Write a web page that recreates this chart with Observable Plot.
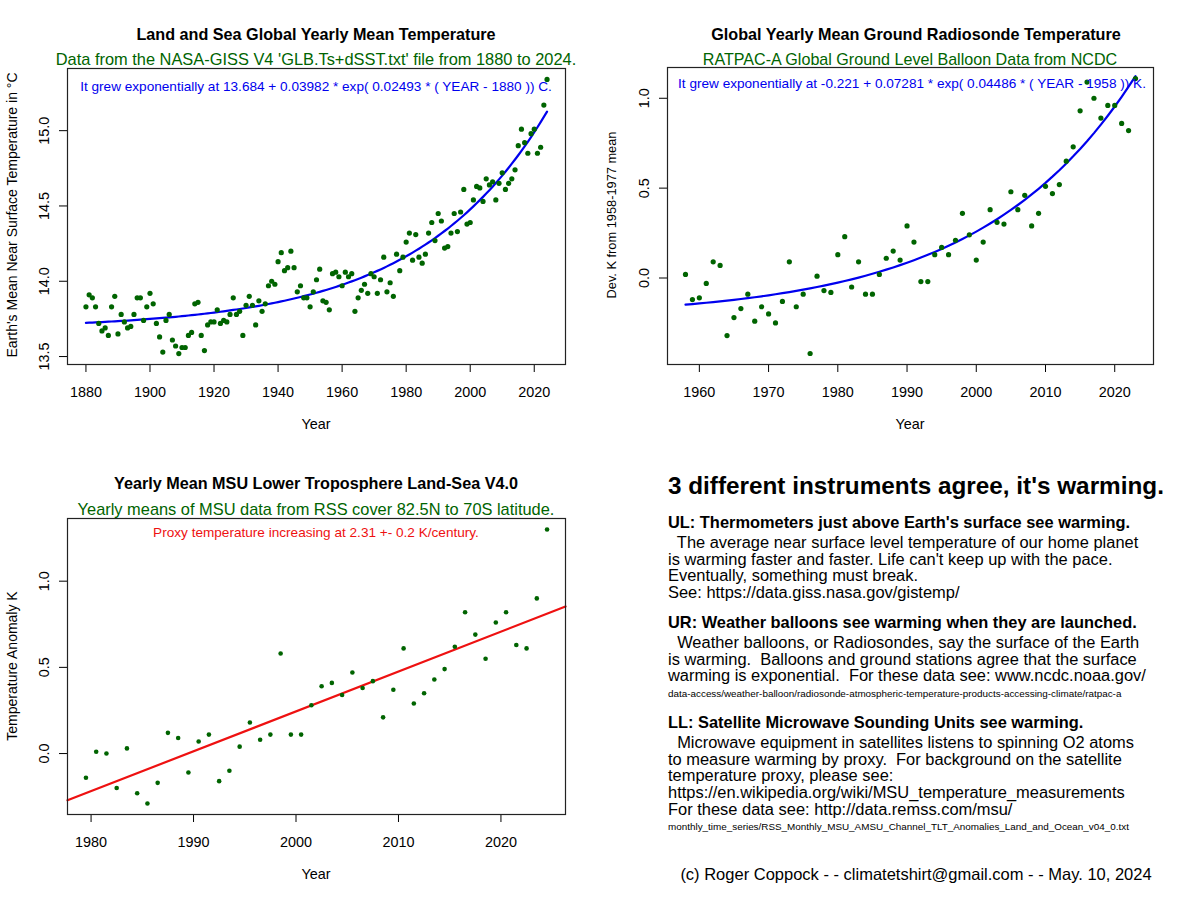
<!DOCTYPE html>
<html><head><meta charset="utf-8">
<script src="https://cdn.jsdelivr.net/npm/d3@7"></script>
<script src="https://cdn.jsdelivr.net/npm/@observablehq/plot@0.6"></script>
<style>
body{margin:0;background:#fff;}
#root{position:relative;width:1199px;height:900px;font-family:"Liberation Sans",Arial,Helvetica,sans-serif;color:#000;overflow:hidden;background:#fff}
.c{position:absolute;white-space:pre;line-height:1;transform:translate(-50%,-50%)}
.r{position:absolute;white-space:pre;line-height:1;transform:translate(-50%,-50%) rotate(-90deg)}
.l{position:absolute;white-space:pre;line-height:1;transform:translate(0,-50%)}
.panel{position:absolute}
</style></head><body><div id="root"></div>
<script>
// ---------------- DATA ----------------
// NASA-GISS V4 global yearly mean temperature (°C), 1880..2024
const gissStartYear = 1880;
const gissTemp = [
  13.83, 13.91, 13.89, 13.83, 13.72, 13.67, 13.69, 13.64, 13.83, 13.90,
  13.65, 13.78, 13.73, 13.69, 13.70, 13.78, 13.89, 13.89, 13.74, 13.83,
  13.92, 13.85, 13.72, 13.63, 13.53, 13.74, 13.78, 13.61, 13.57, 13.52,
  13.56, 13.56, 13.64, 13.66, 13.85, 13.86, 13.64, 13.54, 13.71, 13.73,
  13.73, 13.81, 13.72, 13.74, 13.73, 13.78, 13.89, 13.78, 13.80, 13.64,
  13.84, 13.90, 13.84, 13.71, 13.87, 13.80, 13.85, 13.97, 14.00, 13.98,
  14.13, 14.19, 14.07, 14.09, 14.20, 14.09, 13.93, 13.97, 13.89, 13.89,
  13.83, 13.93, 14.01, 14.08, 13.87, 13.86, 13.81, 14.05, 14.06, 14.03,
  13.97, 14.06, 14.03, 14.05, 13.80, 13.89, 13.94, 13.98, 13.92, 14.05,
  14.03, 13.92, 14.01, 14.16, 13.93, 13.99, 13.90, 14.18, 14.07, 14.16,
  14.26, 14.32, 14.14, 14.31, 14.16, 14.12, 14.18, 14.32, 14.39, 14.27,
  14.45, 14.40, 14.22, 14.23, 14.32, 14.45, 14.33, 14.46, 14.61, 14.38,
  14.39, 14.54, 14.63, 14.62, 14.53, 14.68, 14.64, 14.66, 14.54, 14.65,
  14.72, 14.61, 14.65, 14.68, 14.74, 14.90, 15.01, 14.92, 14.85, 14.98,
  15.01, 14.85, 14.89, 15.17, 15.34
];
const gissFit = {a: 13.684, b: 0.03982, k: 0.02493, y0: 1880};

// RATPAC-A global ground level radiosonde deviation (K from 1958-1977 mean), 1958..2023
const ratpacStartYear = 1958;
const ratpacDev = [
  0.02, -0.12, -0.11, -0.03, 0.09, 0.07, -0.32, -0.22, -0.17, -0.09,
  -0.24, -0.16, -0.20, -0.25, -0.13, 0.09, -0.16, -0.09, -0.42, 0.01,
  -0.07, -0.08, 0.13, 0.23, -0.05, 0.09, -0.09, -0.09, 0.02, 0.11,
  0.15, 0.10, 0.29, 0.20, -0.02, -0.02, 0.13, 0.17, 0.13, 0.21,
  0.36, 0.24, 0.10, 0.20, 0.38, 0.31, 0.30, 0.48, 0.38, 0.46,
  0.29, 0.36, 0.51, 0.47, 0.52, 0.65, 0.73, 0.93, 1.09, 1.00,
  0.89, 0.96, 0.96, 0.86, 0.82, 1.11
];
const ratpacFit = {a: -0.221, b: 0.07281, k: 0.04486, y0: 1958};

// RSS MSU lower troposphere yearly means (K anomaly), 1979..2024, plotted at mid-year
const msuStartYear = 1979;
const msuAnom = [
  -0.14, 0.01, 0.00, -0.20, 0.03, -0.23, -0.29, -0.17, 0.12, 0.09,
  -0.11, 0.07, 0.11, -0.16, -0.10, 0.04, 0.18, 0.08, 0.11, 0.58,
  0.11, 0.11, 0.28, 0.39, 0.41, 0.34, 0.47, 0.38, 0.42, 0.21,
  0.37, 0.61, 0.29, 0.35, 0.43, 0.49, 0.62, 0.82, 0.69, 0.55,
  0.76, 0.82, 0.63, 0.61, 0.90, 1.30
];

const giss = gissTemp.map((v, i) => ({year: gissStartYear + i, value: v}));
const ratpac = ratpacDev.map((v, i) => ({year: ratpacStartYear + i, value: v}));
const msu = msuAnom.map((v, i) => ({year: msuStartYear + i + 0.5, value: v}));

// ---------------- HELPERS ----------------
const FONT = '"Liberation Sans", Arial, Helvetica, sans-serif';
const GREEN = "#006400";
const BLUE = "#0000EE";
const RED = "#EE1111";
const root = document.getElementById("root");

function rpad(ext) { const d = (ext[1] - ext[0]) * 0.04; return [ext[0] - d, ext[1] + d]; }
function expCurve(data, f) { return data.map(d => ({year: d.year, value: f.a + f.b * Math.exp(f.k * (d.year - f.y0))})); }

function addText(cls, x, y, txt, style) {
  const el = document.createElement("div");
  el.className = cls;
  el.style.left = x + "px"; el.style.top = y + "px";
  el.textContent = txt;
  Object.assign(el.style, style || {});
  root.appendChild(el);
  return el;
}

function panel({left, top, width, height, ml, mr, mt, mb, data, xTicks, yTicks, marks, r}) {
  const xDomain = rpad(d3.extent(data, d => d.year));
  const yDomain = rpad(d3.extent(data, d => d.value));
  const chart = Plot.plot({
    width, height,
    marginLeft: ml, marginRight: mr, marginTop: mt, marginBottom: mb,
    style: {fontFamily: FONT, fontSize: "14.4px", background: "transparent", color: "#000", overflow: "visible"},
    x: {domain: xDomain, ticks: xTicks, tickFormat: "d", tickSize: 8, tickPadding: 14, label: null},
    y: {domain: yDomain, ticks: yTicks, tickFormat: ".1f", tickSize: 8, tickPadding: 11, tickRotate: -90, label: null},
    marks: [
      ...marks(xDomain),
      Plot.dot(data, {x: "year", y: "value", r, fill: GREEN, stroke: "none"}),
      Plot.frame({stroke: "#222", strokeWidth: 1.2})
    ]
  });
  chart.classList.add("panel");
  chart.style.left = left + "px"; chart.style.top = top + "px";
  root.appendChild(chart);
}

const TITLE = {fontSize: "16.2px", fontWeight: "bold"};
const SUB = {fontSize: "16.4px", color: GREEN};
const NOTE = {fontSize: "13.6px"};

// ---------------- PANEL UL ----------------
panel({left: 0, top: 0, width: 600, height: 450, ml: 67, mr: 35, mt: 68, mb: 86,
  data: giss, xTicks: [1880, 1900, 1920, 1940, 1960, 1980, 2000, 2020], yTicks: [13.5, 14, 14.5, 15], r: 2.6,
  marks: () => [Plot.line(expCurve(giss, gissFit), {x: "year", y: "value", stroke: BLUE, strokeWidth: 2.2})]
});
addText("c", 316, 34, "Land and Sea Global Yearly Mean Temperature", TITLE);
addText("c", 316, 58.5, "Data from the NASA-GISS V4 'GLB.Ts+dSST.txt' file from 1880 to 2024.", SUB);
addText("c", 316, 87, "It grew exponentially at 13.684 + 0.03982 * exp( 0.02493 * ( YEAR - 1880 )) C.", {...NOTE, color: BLUE});
addText("r", 12, 215, "Earth's Mean Near Surface Temperature in \u00B0C", {fontSize: "14px"});
addText("c", 316, 424, "Year", {fontSize: "14.4px"});

// ---------------- PANEL UR ----------------
panel({left: 600, top: 0, width: 599, height: 450, ml: 67, mr: 46, mt: 67, mb: 86,
  data: ratpac, xTicks: [1960, 1970, 1980, 1990, 2000, 2010, 2020], yTicks: [0, 0.5, 1], r: 2.6,
  marks: () => [Plot.line(expCurve(ratpac, ratpacFit), {x: "year", y: "value", stroke: BLUE, strokeWidth: 2.2})]
});
addText("c", 916, 34, "Global Yearly Mean Ground Radiosonde Temperature", TITLE);
addText("c", 910, 58.5, "RATPAC-A Global Ground Level Balloon Data from NCDC", {...SUB, fontSize: "16.1px"});
addText("c", 912, 84, "It grew exponentially at -0.221 + 0.07281 * exp( 0.04486 * ( YEAR - 1958 )) K.", {...NOTE, color: BLUE});
addText("r", 612, 215, "Dev. K from 1958-1977 mean", {fontSize: "12.8px"});
addText("c", 910, 424, "Year", {fontSize: "14.4px"});

// ---------------- PANEL LL ----------------
panel({left: 0, top: 450, width: 600, height: 450, ml: 67, mr: 35, mt: 68, mb: 86,
  data: msu, xTicks: [1980, 1990, 2000, 2010, 2020], yTicks: [0, 0.5, 1], r: 2.3,
  marks: (xDomain) => {
    // ordinary least-squares fit of the yearly means, drawn across the whole x range
    const mx = d3.mean(msu, d => d.year), my = d3.mean(msu, d => d.value);
    const slope = d3.sum(msu, d => (d.year - mx) * (d.value - my)) / d3.sum(msu, d => (d.year - mx) ** 2);
    const fit = xDomain.map(x => ({year: x, value: my + slope * (x - mx)}));
    return [Plot.line(fit, {x: "year", y: "value", stroke: RED, strokeWidth: 2.2})];
  }
});
addText("c", 316, 483, "Yearly Mean MSU Lower Troposphere Land-Sea V4.0", TITLE);
addText("c", 316, 509, "Yearly means of MSU data from RSS cover 82.5N to 70S latitude.", SUB);
addText("c", 316, 533, "Proxy temperature increasing at 2.31 +- 0.2 K/century.", {...NOTE, color: RED});
addText("r", 12, 666, "Temperature Anomaly K", {fontSize: "14px"});
addText("c", 316, 874, "Year", {fontSize: "14.4px"});

// ---------------- TEXT PANEL (LR) ----------------
const heading = "3 different instruments agree, it's warming.";
const blocks = [
  {title: "UL: Thermometers just above Earth's surface see warming.", y: 522,
   lines: ["  The average near surface level temperature of our home planet",
           "is warming faster and faster. Life can't keep up with the pace.",
           "Eventually, something must break.",
           "See: https://data.giss.nasa.gov/gistemp/"], small: null},
  {title: "UR: Weather balloons see warming when they are launched.", y: 622,
   lines: ["  Weather balloons, or Radiosondes, say the surface of the Earth",
           "is warming.  Balloons and ground stations agree that the surface",
           "warming is exponential.  For these data see: www.ncdc.noaa.gov/"],
   small: "data-access/weather-balloon/radiosonde-atmospheric-temperature-products-accessing-climate/ratpac-a"},
  {title: "LL: Satellite Microwave Sounding Units see warming.", y: 722,
   lines: ["  Microwave equipment in satellites listens to spinning O2 atoms",
           "to measure warming by proxy.  For background on the satellite",
           "temperature proxy, please see:",
           "https://en.wikipedia.org/wiki/MSU_temperature_measurements",
           "For these data see: http://data.remss.com/msu/"],
   small: "monthly_time_series/RSS_Monthly_MSU_AMSU_Channel_TLT_Anomalies_Land_and_Ocean_v04_0.txt"}
];
const copyright = "(c) Roger Coppock - - climatetshirt@gmail.com - - May. 10, 2024";

addText("l", 668, 486, heading, {fontSize: "24.3px", fontWeight: "bold"});
for (const b of blocks) {
  addText("l", 668, b.y, b.title, {fontSize: "16.4px", fontWeight: "bold"});
  b.lines.forEach((t, i) => addText("l", 668, b.y + 20 + i * 16.7, t, {fontSize: "16.45px"}));
  if (b.small) addText("l", 668, b.y + 20 + b.lines.length * 16.7 + 1.5, b.small, {fontSize: "9.9px"});
}
addText("c", 916, 874, copyright, {fontSize: "16.5px"});
</script>
</body></html>
